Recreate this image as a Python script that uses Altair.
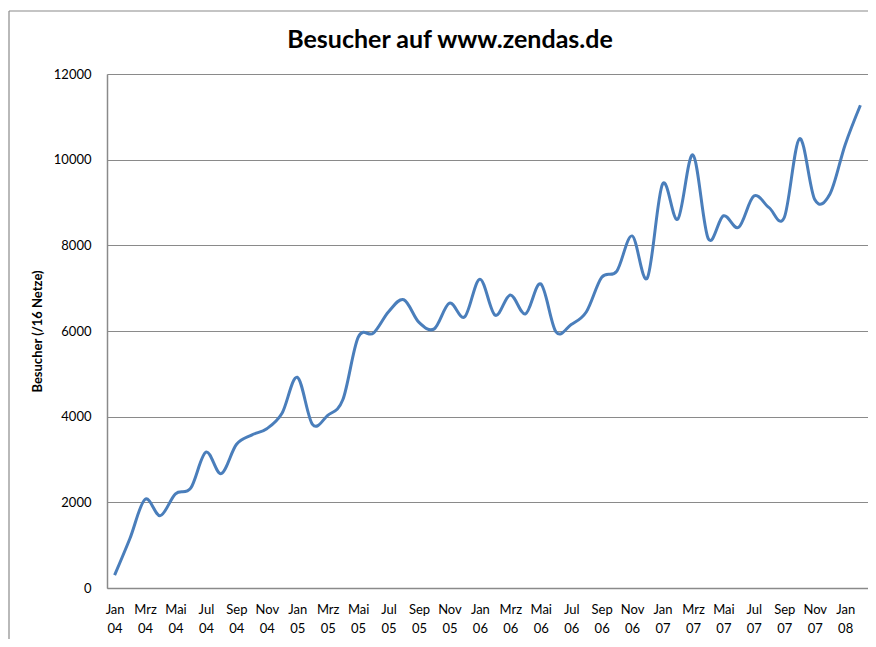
import altair as alt
import pandas as pd

months = ["Jan", "Feb", "Mrz", "Apr", "Mai", "Jun", "Jul", "Aug", "Sep", "Okt", "Nov", "Dez"]
years = ["04", "05", "06", "07", "08"]
labels = [f"{m} {y}" for y in years for m in months][:50]

besucher = [
    300, 1150, 2070, 1690, 2200, 2330, 3170, 2670, 3350, 3570, 3720, 4080,
    4920, 3820, 4030, 4400, 5850, 5950, 6450, 6730, 6200, 6050, 6650, 6330,
    7210, 6370, 6840, 6400, 7100, 5980, 6150, 6450, 7250, 7400, 8220, 7240,
    9430, 8610, 10110, 8160, 8690, 8420, 9150, 8880, 8650, 10490, 9070, 9200,
    10350, 11270,
]
y_ticks = [0, 2000, 4000, 6000, 8000, 10000, 12000]
title_text = "Besucher auf www.zendas.de"

df = pd.DataFrame({"Monat": labels, "Besucher": besucher})
shown = labels[::2]

FONT = "Lato"
GRAY = "#8a8a8a"
W, H = 761, 514

line = alt.Chart(df).mark_line(
    interpolate="cardinal", tension=0, color="#4A7EBB", strokeWidth=3
).encode(
    x=alt.X("Monat:O", sort=labels, title=None,
            scale=alt.Scale(type="point", padding=0.5),
            axis=alt.Axis(values=shown, labelAngle=0, labelExpr="split(datum.label, ' ')",
                          labelFont=FONT, labelFontSize=13, labelColor="#000000",
                          labelLineHeight=19, labelPadding=15, labelBaseline="top",
                          ticks=False, domainColor=GRAY, domainWidth=1.5,
                          labelOverlap=False, grid=False)),
    y=alt.Y("Besucher:Q", title="Besucher (/16 Netze)",
            scale=alt.Scale(domain=[0, 12000], nice=False),
            axis=alt.Axis(values=y_ticks, format="d", labelFont=FONT, labelFontSize=13,
                          labelColor="#000000", labelPadding=16, ticks=False,
                          domainColor=GRAY, domainWidth=1.5, gridColor=GRAY, gridWidth=1,
                          titleFont=FONT, titleFontSize=13, titleFontWeight="bold",
                          titleColor="#000000", titleX=-70, titleY=257, titleAngle=270,
                          titleBaseline="middle", titleAlign="center")),
)

one = alt.Data(values=[{"t": title_text}])
border_left = alt.Chart(one).mark_rule(color=GRAY, strokeWidth=1.2).encode(
    x=alt.value(-98), y=alt.value(-63), y2=alt.value(H + 60)
)
border_top = alt.Chart(one).mark_rule(color=GRAY, strokeWidth=1.2).encode(
    x=alt.value(-98), x2=alt.value(W), y=alt.value(-63)
)
title = alt.Chart(one).mark_text(
    font=FONT, fontSize=25, fontWeight="bold", color="#000000",
    align="center", baseline="middle"
).encode(text="t:N", x=alt.value(343), y=alt.value(-34))

chart = alt.layer(line, border_left, border_top, title).properties(
    width=W, height=H,
    autosize=alt.AutoSizeParams(type="none"),
    padding={"left": 99, "top": 66, "right": 0, "bottom": 51},
).configure_view(stroke=None).configure(background="white")

chart.save("out.html", embed_options={"renderer": "svg", "actions": False})
